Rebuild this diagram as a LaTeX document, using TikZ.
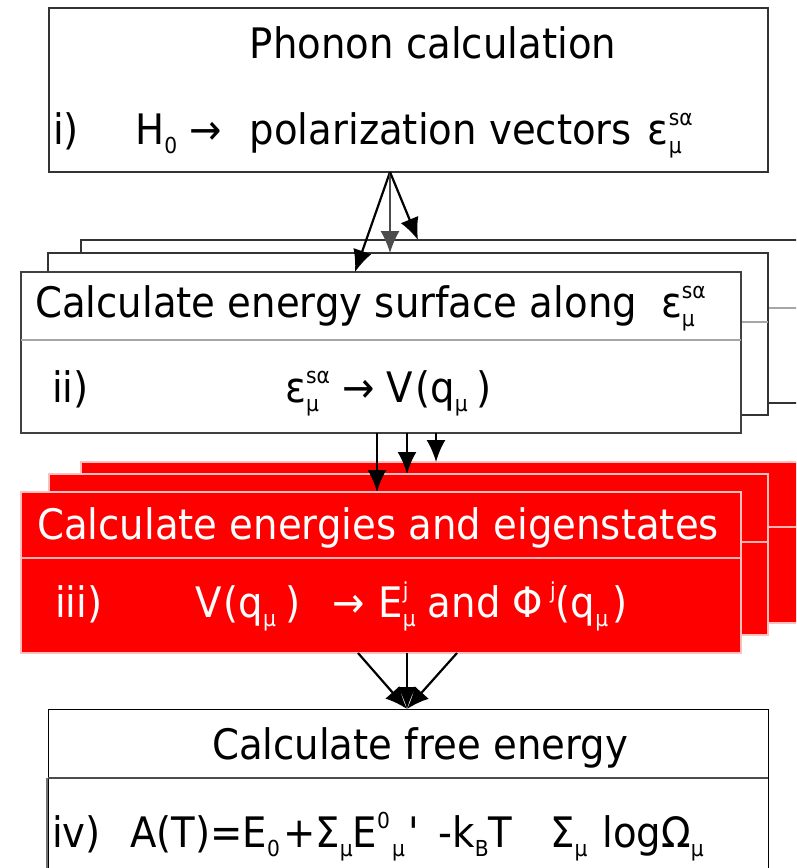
\documentclass[tikz,border=0pt]{standalone}
\usepackage{fontspec}
\setmainfont{DejaVu Sans}[FakeStretch=0.92]
\usetikzlibrary{arrows.meta,calc}
\newcommand{\scrp}[1]{{\fontsize{22}{22}\selectfont #1}}
\newcommand{\dn}[1]{\raisebox{-9pt}{\scrp{#1}}}
\newcommand{\up}[1]{\raisebox{19pt}{\scrp{#1}}}
\newsavebox\boxA
\newsavebox\boxB
\newcommand{\both}[2]{\sbox\boxA{\up{#1}}\sbox\boxB{\dn{#2}}\ifdim\wd\boxA>\wd\boxB\rlap{\usebox\boxB}\usebox\boxA\else\rlap{\usebox\boxA}\usebox\boxB\fi}
\begin{document}
\begin{tikzpicture}[x=1pt,y=-1pt,
  txt/.style={font=\fontsize{42}{44}\selectfont, inner sep=0pt, anchor=base west},
  wbox/.style={draw=black!80, line width=1.3pt, fill=white, anchor=north west, inner sep=0pt, outer sep=0pt},
  fbox/.style={draw=black!75, line width=2.6pt, fill=white, anchor=north west, inner sep=0pt, outer sep=0pt},
  rbox/.style={draw=red!25!white, line width=1.2pt, fill=red, anchor=north west, inner sep=0pt, outer sep=0pt},
  divw/.style={draw=black!35, line width=1.3pt},
  divr/.style={draw=red!30!white, line width=1.2pt},
  arr/.style={draw=black, line width=2.2pt, -{Latex[length=22pt,width=19pt]}}]
\clip (0,0) rectangle (796,868);
\fill[white] (0,0) rectangle (796,868);
% box 1
\node[wbox, minimum width=719pt, minimum height=164pt] (b1) at (49,8) {};
% box 2 stack
\node[wbox, minimum width=760pt, minimum height=163pt] (b2c) at (81,240) {};
\draw[divw] ($(b2c.north west)+(0,68)$) -- ($(b2c.north east)+(0,68)$);
\node[wbox, minimum width=720pt, minimum height=162pt] (b2b) at (48,253) {};
\draw[divw] ($(b2b.north west)+(0,69)$) -- ($(b2b.north east)+(0,69)$);
\node[fbox, minimum width=720pt, minimum height=161pt] (b2a) at (21,272) {};
\draw[divw] ($(b2a.north west)+(0,68)$) -- ($(b2a.north east)+(0,68)$);
% box 3 stack
\node[rbox, minimum width=760pt, minimum height=161pt] (b3c) at (81,462) {};
\draw[divr] ($(b3c.north west)+(0,65)$) -- ($(b3c.north east)+(0,65)$);
\node[rbox, minimum width=719pt, minimum height=161pt] (b3b) at (49,474) {};
\draw[divr] ($(b3b.north west)+(0,68)$) -- ($(b3b.north east)+(0,68)$);
\node[rbox, minimum width=720pt, minimum height=161pt] (b3a) at (21,492) {};
\draw[divr] ($(b3a.north west)+(0,66)$) -- ($(b3a.north east)+(0,66)$);
% box 4
\node[draw=black, line width=1pt, fill=white, anchor=north west, inner sep=0pt, outer sep=0pt,
  minimum width=720pt, minimum height=200pt] (b4) at (48,709) {};
\draw[black!70, line width=1.3pt] ($(b4.north west)+(0,69)$) -- ($(b4.north east)+(0,69)$);
\draw[black!55, line width=2.6pt] ($(b4.north west)+(-1,69)$) -- ($(b4.south west)+(-1,0)$);
% texts
\node[txt, anchor=base] (t1a) at (433,58) {Phonon calculation};
\node[txt] (t1b) at (53,144) {i)};
\node[txt] (t1c) at (135,144) {H\dn{0}\ →\hspace{28pt}polarization vectors\hspace{16pt}ε\both{sα}{μ}};
\node[txt] (t2a) at (35,317) {Calculate energy surface along\hspace{24pt}ε\both{sα}{μ}};
\node[txt] (t2b) at (52,402) {ii)};
\node[txt] (t2c) at (285,402) {ε\both{sα}{μ}\ → V\kern2pt(q\dn{μ}\hspace{9pt})};
\node[txt, text=white] (t3a) at (37,539) {Calculate energies and eigenstates};
\node[txt, text=white] (t3b) at (55,617) {iii)};
\node[txt, text=white] (t3c) at (195,617) {V\kern2pt(q\dn{μ}\hspace{9pt})\hspace{32pt}→\hspace{14pt}E\both{j}{μ}\hspace{12pt}and Φ\,\up{j}(q\dn{μ}\hspace{4pt})};
\node[txt, anchor=base] (t4a) at (420,759) {Calculate free energy};
\node[txt] (t4b) at (52,847) {iv)};
\node[txt] (t4c) at (130,847) {A(T)=E\dn{0}\kern3pt+Σ\dn{μ}E\up{0}\kern2pt\dn{μ}\kern4pt\textquotesingle\hspace{18pt}-k\dn{B}T\hspace{38pt}Σ\dn{μ}\hspace{15pt}logΩ\dn{μ}};
% arrow anchor points
\coordinate (o1) at (b1.south -| 390,0);
\coordinate (p1a) at (b2a.north -| 355,0);
\coordinate (p1b) at (b2b.north -| 390,0);
\coordinate (p1c) at (b2c.north -| 418,0);
\draw[arr] (o1) -- (p1a);
\draw[arr, line width=1.3pt, draw=black!70] (o1) -- (p1b);
\draw[arr] (o1) -- (p1c);
\coordinate (o2a) at (b2a.south -| 377,0);
\coordinate (o2b) at (b2a.south -| 407,0);
\coordinate (o2c) at (b2a.south -| 436,0);
\draw[arr] (o2a) -- (o2a |- b3a.north);
\draw[arr] (o2b) -- (o2b |- b3b.north);
\draw[arr] (o2c) -- (o2c |- b3c.north);
\coordinate (o3a) at (b3a.south -| 358,0);
\coordinate (o3b) at (b3a.south -| 407,0);
\coordinate (o3c) at (b3a.south -| 457,0);
\coordinate (p3) at (b4.north -| 407,0);
\draw[arr] (o3a) -- (p3);
\draw[arr] (o3b) -- (p3);
\draw[arr] (o3c) -- (p3);
\end{tikzpicture}
\end{document}
